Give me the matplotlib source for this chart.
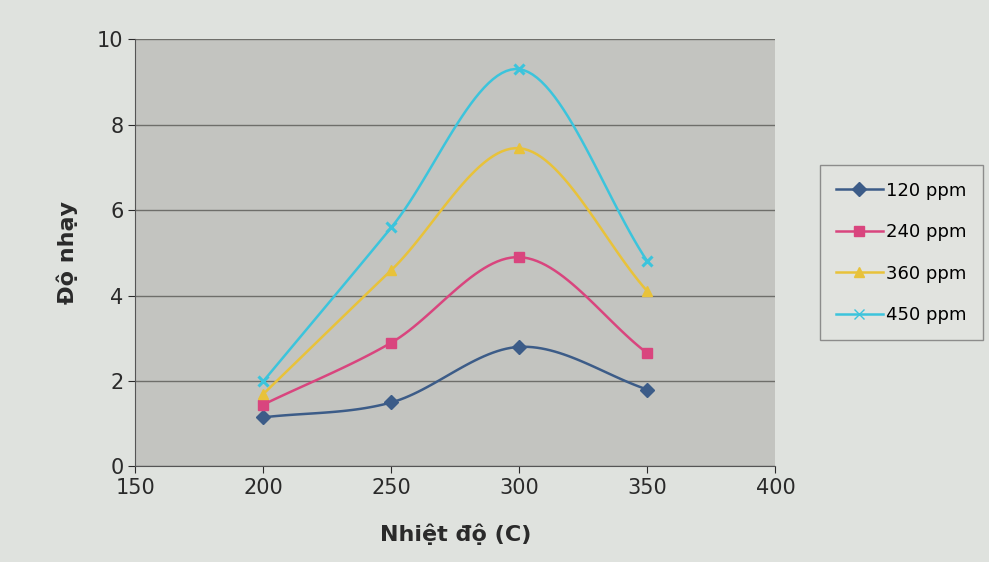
import numpy as np
import matplotlib.pyplot as plt

# temperatures (C) and sensitivity for each gas concentration
temps = [200, 250, 300, 350]
s120 = [1.15, 1.5, 2.8, 1.8]
s240 = [1.45, 2.9, 4.9, 2.65]
s360 = [1.7, 4.6, 7.45, 4.1]
s450 = [2.0, 5.6, 9.3, 4.8]
labels = ["120 ppm", "240 ppm", "360 ppm", "450 ppm"]


def smooth(x, y, n=30):
    # Catmull-Rom curve through the points, like Excel's smoothed line
    x = np.asarray(x, float)
    y = np.asarray(y, float)
    px = np.concatenate([[2 * x[0] - x[1]], x, [2 * x[-1] - x[-2]]])
    py = np.concatenate([[2 * y[0] - y[1]], y, [2 * y[-1] - y[-2]]])
    xs, ys = [], []
    t = np.linspace(0, 1, n)
    for i in range(1, len(px) - 2):
        for p, out in ((px, xs), (py, ys)):
            p0, p1, p2, p3 = p[i - 1], p[i], p[i + 1], p[i + 2]
            out.extend(0.5 * (2 * p1 + (-p0 + p2) * t
                              + (2 * p0 - 5 * p1 + 4 * p2 - p3) * t ** 2
                              + (-p0 + 3 * p1 - 3 * p2 + p3) * t ** 3))
    return xs, ys


fig = plt.figure(figsize=(9.89, 5.62), dpi=100, facecolor="#dfe2de")
ax = fig.add_axes([0.137, 0.17, 0.647, 0.76])
ax.set_facecolor("#c3c4c0")

series = [s120, s240, s360, s450]
colors = ["#3c5c88", "#d9457e", "#e8c23a", "#3cc4dc"]
markers = ["D", "s", "^", "x"]
for ys, c, m, lab in zip(series, colors, markers, labels):
    sx, sy = smooth(temps, ys)
    ax.plot(sx, sy, color=c, lw=1.8, zorder=3)
    ax.plot(temps, ys, linestyle="none", marker=m, color=c, ms=7,
            mew=2.2 if m == "x" else 1, zorder=4)
    ax.plot([], [], color=c, marker=m, ms=7, lw=1.8, label=lab)

ax.set_xlim(150, 400)
ax.set_ylim(0, 10)
ax.set_xticks(range(150, 401, 50))
ax.set_yticks(range(0, 11, 2))
ax.yaxis.grid(True, color="#6e6e6a", lw=1)
ax.set_axisbelow(True)
for s in ["top", "right"]:
    ax.spines[s].set_visible(False)
for s in ["left", "bottom"]:
    ax.spines[s].set_color("#555555")
ax.tick_params(labelsize=15, colors="#2a2a2a", length=5)
ax.set_xlabel("Nhiệt độ (C)", fontsize=16, fontweight="bold", color="#2a2a2a", labelpad=18)
ax.set_ylabel("Độ nhạy", fontsize=16, fontweight="bold", color="#2a2a2a", labelpad=14)

leg = ax.legend(loc="center left", bbox_to_anchor=(1.055, 0.5), fontsize=13,
                frameon=True, fancybox=False, labelspacing=1.3, handlelength=2.6,
                handletextpad=0.2, borderpad=0.9)
leg.get_frame().set_facecolor("#e2e4e0")
leg.get_frame().set_edgecolor("#777777")

fig.savefig("out.png", dpi=100, facecolor=fig.get_facecolor())
